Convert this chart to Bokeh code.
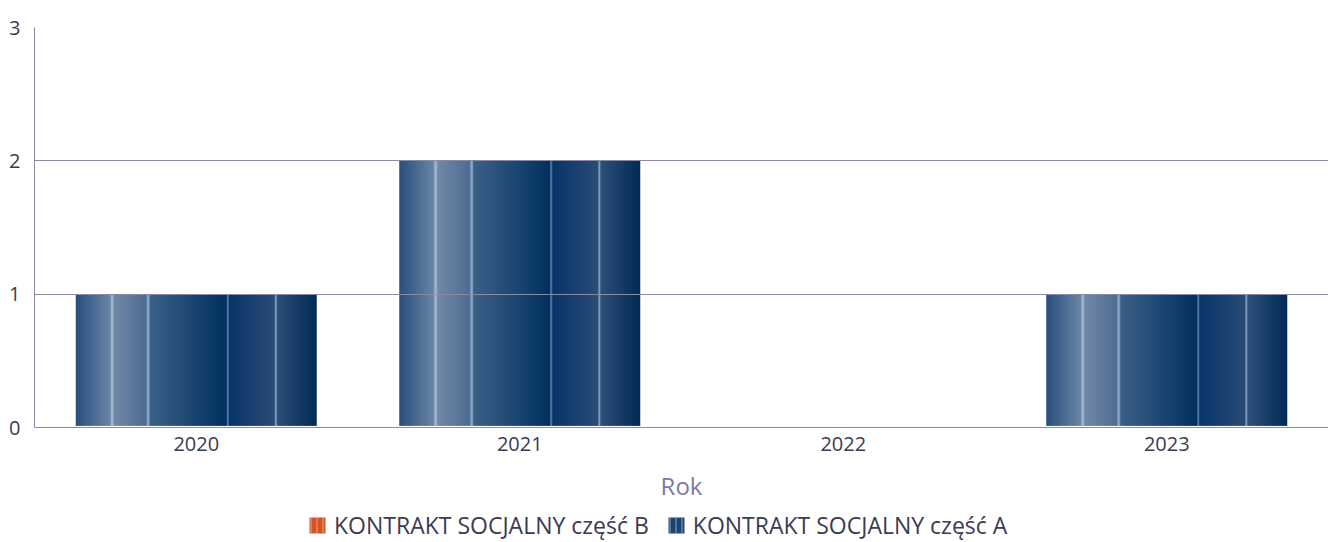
import numpy as np
from bokeh.plotting import figure
from bokeh.models import (Range1d, FixedTicker, Legend, LegendItem, LinearAxis)
from bokeh.embed import file_html
from bokeh.resources import INLINE

# ---- data ----
years = ["2020", "2021", "2022", "2023"]
series_b = [0, 0, 0, 0]          # KONTRAKT SOCJALNY część B
series_a = [1, 2, 0, 1]          # KONTRAKT SOCJALNY część A
y_ticks = [0, 1, 2, 3]
series_names = ["KONTRAKT SOCJALNY część B", "KONTRAKT SOCJALNY część A"]
x_title = "Rok"

# ---- style ----
FONT = "Open Sans"
TXT = "#3b3b52"
GRID = "#8a8aa0"
BAR_W = 0.745
Y_MAX = 3
Y_MIN = -0.8625   # room under the axis for the axis title and the legend
# gradient stops across a bar (fraction, colour) used to shade the bars
stops_a = [
    (0.00, "#2a4f7e"), (0.145, "#6a86a6"), (0.146, "#9fb4cc"), (0.155, "#9fb4cc"),
    (0.156, "#7189a8"), (0.295, "#4d6c92"), (0.296, "#88a2c2"), (0.305, "#88a2c2"),
    (0.306, "#3c6189"), (0.625, "#00305f"), (0.626, "#5f7fa6"), (0.632, "#5f7fa6"),
    (0.633, "#07346a"), (0.825, "#2a4c75"), (0.826, "#7c99ba"), (0.834, "#7c99ba"),
    (0.835, "#2e5079"), (1.00, "#002b57"),
]


def hex2rgb(h):
    h = h.lstrip("#")
    return tuple(int(h[i:i + 2], 16) for i in (0, 2, 4))


def colour_at(t, stops):
    for (t0, c0), (t1, c1) in zip(stops[:-1], stops[1:]):
        if t0 <= t <= t1:
            f = 0 if t1 == t0 else (t - t0) / (t1 - t0)
            a, b = hex2rgb(c0), hex2rgb(c1)
            return tuple(round(a[i] + (b[i] - a[i]) * f) for i in range(3))
    return hex2rgb(stops[-1][1])


# one-row RGBA gradient image used as the fill of each bar
M = 480
grad = np.zeros((1, M), dtype=np.uint32)
view = grad.view(dtype=np.uint8).reshape((1, M, 4))
for k in range(M):
    r, g, b = colour_at((k + 0.5) / M, stops_a)
    view[0, k] = (r, g, b, 255)

p = figure(width=1328, height=542, frame_width=1294, frame_height=515,
           output_backend="svg", toolbar_location=None,
           x_range=Range1d(0, len(years)), y_range=Range1d(Y_MIN, Y_MAX),
           x_axis_location=None, y_axis_location=None,
           min_border_left=34, min_border_top=27, min_border_right=0,
           min_border_bottom=0)
p.outline_line_color = None
p.background_fill_color = "white"

xs, ys, dhs, imgs = [], [], [], []
for i, v in enumerate(series_a):
    if v <= 0:
        continue
    xs.append(i + 0.5 - BAR_W / 2)
    ys.append(0.012)
    dhs.append(v - 0.012)
    imgs.append(grad)
p.image_rgba(image=imgs, x=xs, y=ys, dw=[BAR_W] * len(xs), dh=dhs)

# legend proxies (series B is empty)
rb = p.quad(left=[0], right=[0], top=[0], bottom=[0], fill_color="#d4532a",
            line_color=None, hatch_pattern="vertical_line", hatch_color="#f0a080",
            hatch_scale=6, hatch_weight=1)
ra = p.quad(left=[0], right=[0], top=[0], bottom=[0], fill_color="#1d4270",
            line_color=None, hatch_pattern="vertical_line", hatch_color="#8aa6c6",
            hatch_scale=6, hatch_weight=1)

# axes
xaxis = LinearAxis(fixed_location=0,
                   ticker=FixedTicker(ticks=[i + 0.5 for i in range(len(years))]),
                   major_label_overrides={i + 0.5: y for i, y in enumerate(years)})
yaxis = LinearAxis(ticker=FixedTicker(ticks=y_ticks), bounds=(0, Y_MAX))
p.add_layout(xaxis, "below")
p.add_layout(yaxis, "left")
for ax in (xaxis, yaxis):
    ax.axis_line_color = GRID
    ax.axis_line_width = 1
    ax.major_tick_line_color = None
    ax.minor_tick_line_color = None
    ax.major_tick_out = 0
    ax.major_tick_in = 0
    ax.major_label_text_font = FONT
    ax.major_label_text_font_size = "20px"
    ax.major_label_text_color = TXT
yaxis.major_label_standoff = 14
xaxis.major_label_standoff = 9
xaxis.axis_label = x_title
xaxis.axis_label_text_font = FONT
xaxis.axis_label_text_font_style = "normal"
xaxis.axis_label_text_font_size = "24px"
xaxis.axis_label_text_color = "#7a7aa6"
xaxis.axis_label_standoff = 15

p.xgrid.grid_line_color = None
p.ygrid.grid_line_color = GRID
p.ygrid.ticker = FixedTicker(ticks=y_ticks)
p.ygrid.level = "annotation"

legend = Legend(items=[LegendItem(label=series_names[0], renderers=[rb]),
                       LegendItem(label=series_names[1], renderers=[ra])],
                orientation="horizontal", location=(273, 1),
                label_text_font=FONT, label_text_font_size="23px",
                label_text_color=TXT, glyph_width=20, glyph_height=20,
                spacing=17, label_standoff=7, padding=0, margin=0,
                border_line_color=None, background_fill_alpha=0)
p.add_layout(legend)

open("out.html", "w").write(file_html(p, INLINE))
